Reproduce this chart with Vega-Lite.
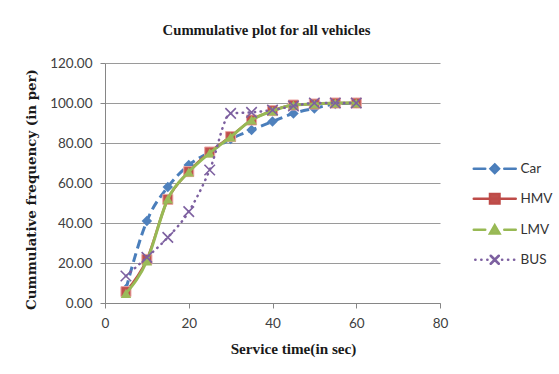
{
  "$schema": "https://vega.github.io/schema/vega-lite/v6.json",
  "width": 335,
  "height": 240,
  "autosize": {"type": "none"},
  "padding": {"left": 105, "top": 63, "right": 119, "bottom": 71},
  "background": "white",
  "title": {
    "text": "Cummulative plot for all vehicles",
    "font": "Liberation Serif",
    "fontWeight": "bold",
    "fontSize": 14.7,
    "color": "#1a1a1a",
    "anchor": "middle",
    "dx": -6,
    "offset": 18
  },
  "config": {"view": {"stroke": null}},
  "data": {
    "values": [
      {"vehicle": "Car", "time": 5, "freq": 7},
      {"vehicle": "Car", "time": 10, "freq": 41},
      {"vehicle": "Car", "time": 15, "freq": 58},
      {"vehicle": "Car", "time": 20, "freq": 69},
      {"vehicle": "Car", "time": 25, "freq": 75.5},
      {"vehicle": "Car", "time": 30, "freq": 82},
      {"vehicle": "Car", "time": 35, "freq": 86.5},
      {"vehicle": "Car", "time": 40, "freq": 90.7},
      {"vehicle": "Car", "time": 45, "freq": 94.8},
      {"vehicle": "Car", "time": 50, "freq": 97.3},
      {"vehicle": "Car", "time": 55, "freq": 99.5},
      {"vehicle": "Car", "time": 60, "freq": 100},
      {"vehicle": "HMV", "time": 5, "freq": 5.7},
      {"vehicle": "HMV", "time": 10, "freq": 21.8},
      {"vehicle": "HMV", "time": 15, "freq": 51.8},
      {"vehicle": "HMV", "time": 20, "freq": 65.7},
      {"vehicle": "HMV", "time": 25, "freq": 75.5},
      {"vehicle": "HMV", "time": 30, "freq": 83.2},
      {"vehicle": "HMV", "time": 35, "freq": 91.5},
      {"vehicle": "HMV", "time": 40, "freq": 96.2},
      {"vehicle": "HMV", "time": 45, "freq": 99},
      {"vehicle": "HMV", "time": 50, "freq": 99.5},
      {"vehicle": "HMV", "time": 55, "freq": 100},
      {"vehicle": "HMV", "time": 60, "freq": 100},
      {"vehicle": "LMV", "time": 5, "freq": 4.8},
      {"vehicle": "LMV", "time": 10, "freq": 21},
      {"vehicle": "LMV", "time": 15, "freq": 52},
      {"vehicle": "LMV", "time": 20, "freq": 65.5},
      {"vehicle": "LMV", "time": 25, "freq": 75},
      {"vehicle": "LMV", "time": 30, "freq": 83},
      {"vehicle": "LMV", "time": 35, "freq": 91.5},
      {"vehicle": "LMV", "time": 40, "freq": 96},
      {"vehicle": "LMV", "time": 45, "freq": 99},
      {"vehicle": "LMV", "time": 50, "freq": 99.5},
      {"vehicle": "LMV", "time": 55, "freq": 100},
      {"vehicle": "LMV", "time": 60, "freq": 100},
      {"vehicle": "BUS", "time": 5, "freq": 13.5},
      {"vehicle": "BUS", "time": 10, "freq": 22.8},
      {"vehicle": "BUS", "time": 15, "freq": 32.8},
      {"vehicle": "BUS", "time": 20, "freq": 45.7},
      {"vehicle": "BUS", "time": 25, "freq": 66.5},
      {"vehicle": "BUS", "time": 30, "freq": 94.8},
      {"vehicle": "BUS", "time": 35, "freq": 95.3},
      {"vehicle": "BUS", "time": 40, "freq": 96.5},
      {"vehicle": "BUS", "time": 45, "freq": 98.5},
      {"vehicle": "BUS", "time": 50, "freq": 100},
      {"vehicle": "BUS", "time": 55, "freq": 100},
      {"vehicle": "BUS", "time": 60, "freq": 100}
    ]
  },
  "encoding": {
    "x": {
      "field": "time",
      "type": "quantitative",
      "scale": {"domain": [0, 80], "nice": false, "zero": false},
      "axis": {
        "values": [0, 20, 40, 60, 80],
        "grid": false,
        "title": "Service time(in sec)",
        "titleFont": "Liberation Serif",
        "titleFontWeight": "bold",
        "titleFontSize": 15.2,
        "titleColor": "#1a1a1a",
        "titleBaseline": "alphabetic",
        "titleX": 188,
        "titleY": 50,
        "labelFont": "Lato",
        "labelFontSize": 13.5,
        "labelColor": "#404040",
        "labelPadding": 8,
        "labelFlush": false,
        "tickSize": 5,
        "tickColor": "#868686",
        "domainColor": "#868686"
      }
    },
    "y": {
      "field": "freq",
      "type": "quantitative",
      "scale": {"domain": [0, 120], "nice": false},
      "axis": {
        "values": [0, 20, 40, 60, 80, 100, 120],
        "format": ".2f",
        "grid": true,
        "gridColor": "#9a9a9a",
        "title": "Cummulative frequency (in per)",
        "titleFont": "DejaVu Serif",
        "titleFontWeight": "bold",
        "titleFontSize": 13.4,
        "titleColor": "#1a1a1a",
        "titleBaseline": "alphabetic",
        "titleAngle": -90,
        "titleX": -70,
        "titleY": 126,
        "titleLimit": 300,
        "labelFont": "Lato",
        "labelFontSize": 13.5,
        "labelColor": "#404040",
        "labelPadding": 8,
        "labelFlush": false,
        "tickSize": 5,
        "tickColor": "#868686",
        "domainColor": "#868686"
      }
    },
    "color": {
      "field": "vehicle",
      "type": "nominal",
      "scale": {
        "domain": ["Car", "HMV", "LMV", "BUS"],
        "range": ["#4a7ebb", "#be4b48", "#98b954", "#7d60a0"]
      },
      "legend": {
        "title": null,
        "orient": "none",
        "legendX": 383,
        "legendY": 99,
        "padding": 0,
        "symbolSize": 100,
        "symbolStrokeWidth": 2.5,
        "labelFont": "Lato",
        "labelFontSize": 13.5,
        "labelColor": "#333333",
        "labelOffset": 19,
        "rowPadding": 11,
        "encode": {
          "symbols": {
            "update": {
              "shape": {"signal": "datum.value === 'Car' ? 'M-4.2,0L-1.9,0M1.9,0L4.2,0M0,-0.85L0.85,0L0,0.85L-0.85,0Z' : datum.value === 'HMV' ? 'M-4.2,0L4.2,0M-0.95,-0.95L0.95,-0.95L0.95,0.95L-0.95,0.95Z' : datum.value === 'LMV' ? 'M-4.2,0L-1.9,0M1.9,0L4.2,0M0,-0.9L0.95,0.75L-0.95,0.75Z' : 'M-3.9,0L-3.85,0M-2.7,0L-2.65,0M-1.5,0L-1.45,0M1.45,0L1.5,0M2.65,0L2.7,0M3.85,0L3.9,0M-0.8,-0.8L0.8,0.8M-0.8,0.8L0.8,-0.8'"},
              "fill": {"signal": "datum.value === 'Car' ? '#4f81bd' : datum.value === 'HMV' ? '#c0504d' : datum.value === 'LMV' ? '#9bbb59' : 'transparent'"},
              "stroke": {"signal": "datum.value === 'Car' ? '#4a7ebb' : datum.value === 'HMV' ? '#be4b48' : datum.value === 'LMV' ? '#98b954' : '#7d60a0'"},
              "strokeWidth": {"value": 2.5},
              "strokeCap": {"value": "round"},
              "strokeDash": {"value": []},
              "opacity": {"value": 1}
            }
          }
        }
      }
    }
  },
  "layer": [
    {
      "transform": [{"filter": "datum.vehicle === 'Car'"}],
      "mark": {"type": "line", "strokeWidth": 3, "strokeDash": [9, 5], "interpolate": "monotone"}
    },
    {
      "transform": [{"filter": "datum.vehicle === 'Car'"}],
      "mark": {"type": "point", "shape": "diamond", "filled": true, "size": 110, "opacity": 1},
      "encoding": {"color": {"value": "#4f81bd"}}
    },
    {
      "transform": [{"filter": "datum.vehicle === 'HMV'"}],
      "mark": {"type": "line", "strokeWidth": 2.5, "interpolate": "monotone"}
    },
    {
      "transform": [{"filter": "datum.vehicle === 'HMV'"}],
      "mark": {"type": "point", "shape": "square", "filled": true, "size": 100, "opacity": 1, "strokeWidth": 1},
      "encoding": {"color": {"value": "#c0504d"}, "stroke": {"value": "#eaa5a3"}}
    },
    {
      "transform": [{"filter": "datum.vehicle === 'LMV'"}],
      "mark": {"type": "line", "strokeWidth": 3, "interpolate": "monotone"}
    },
    {
      "transform": [{"filter": "datum.vehicle === 'LMV'"}],
      "mark": {"type": "point", "shape": "triangle-up", "filled": true, "size": 110, "opacity": 1},
      "encoding": {"color": {"value": "#9bbb59"}}
    },
    {
      "transform": [{"filter": "datum.vehicle === 'BUS'"}],
      "mark": {"type": "line", "strokeWidth": 2.5, "strokeDash": [0.5, 5.5], "strokeCap": "round", "interpolate": "monotone"}
    },
    {
      "transform": [{"filter": "datum.vehicle === 'BUS'"}],
      "mark": {"type": "point", "shape": "M-1,-1L1,1M-1,1L1,-1", "filled": false, "size": 110, "opacity": 1, "strokeWidth": 1.6},
      "encoding": {"color": {"value": "#7d60a0"}}
    }
  ]
}
